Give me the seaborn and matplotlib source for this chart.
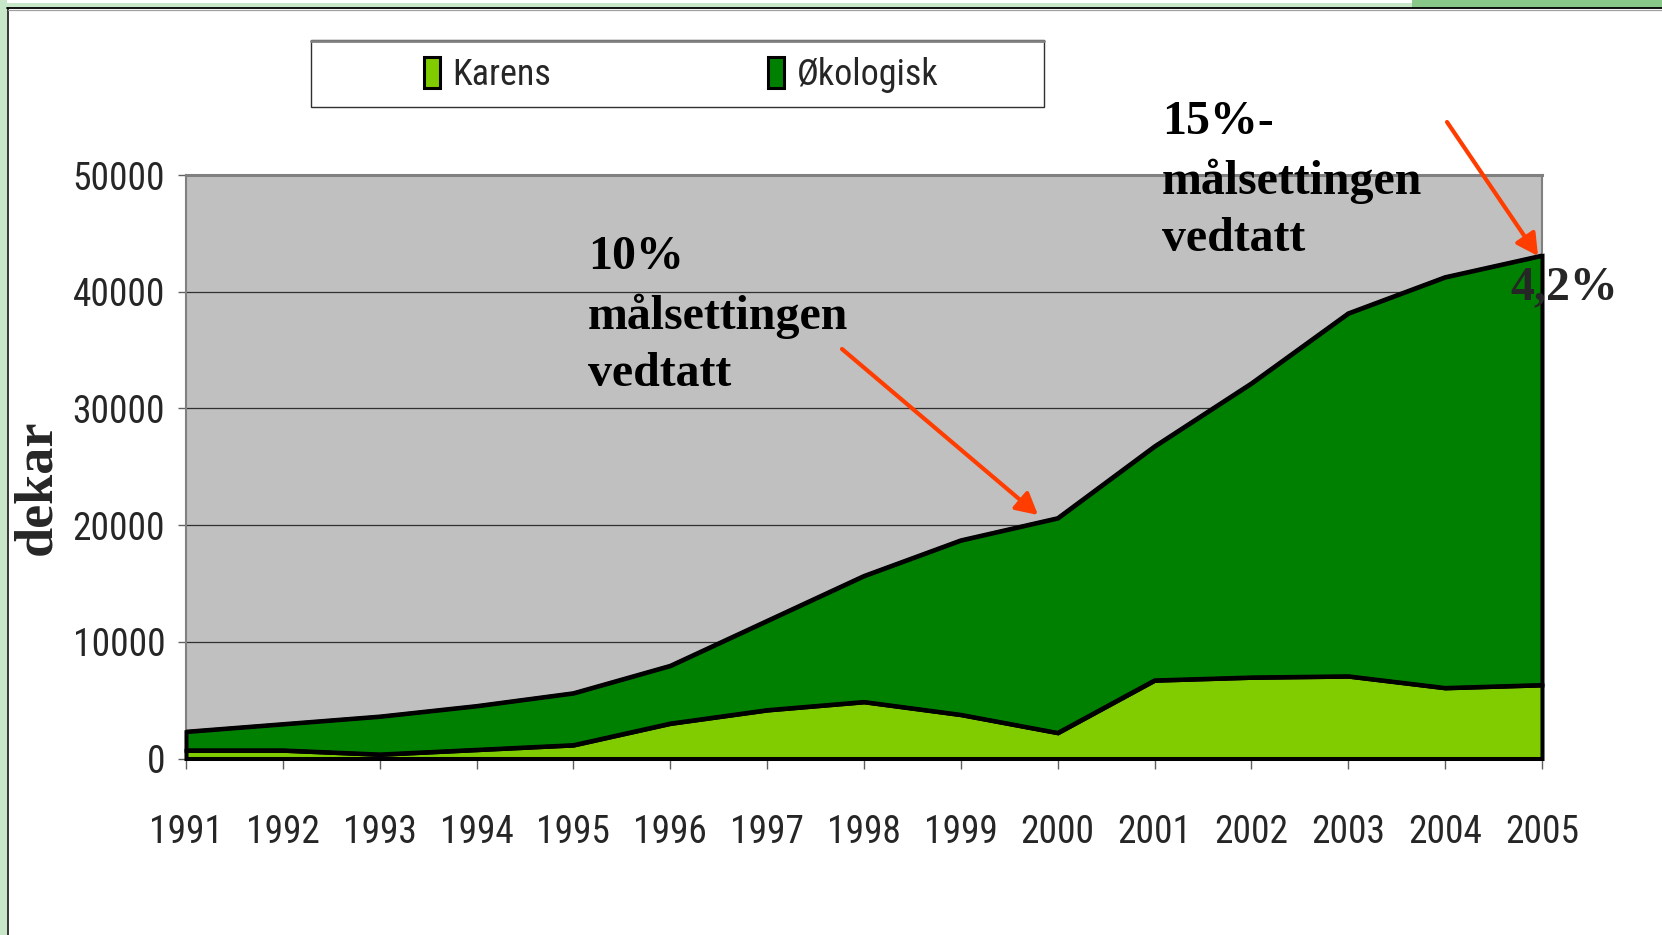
import matplotlib
matplotlib.use("Agg")
import matplotlib.pyplot as plt
from matplotlib import font_manager as fm
from matplotlib.patches import Rectangle, Patch
from matplotlib.lines import Line2D
import pandas as pd
import seaborn as sns

# data (dekar)
years = list(range(1991, 2006))
karens = [700, 700, 350, 750, 1150, 3000, 4150, 4850, 3750, 2200, 6700, 6950, 7050, 6050, 6300]
okologisk = [1600, 2250, 3250, 3750, 4450, 4950, 7650, 10800, 14950, 18400, 20050, 25200, 31100, 35200, 36800]
series_names = ["Karens", "Økologisk"]
series_colors = ["#80CC00", "#008000"]
y_ticks = [0, 10000, 20000, 30000, 40000, 50000]

df = pd.DataFrame({"år": years, "Karens": karens, "Økologisk": okologisk})
df["total"] = df["Karens"] + df["Økologisk"]

sns.set_style("white")

# look for a narrow sans font, like Arial Narrow in the original
names = {f.name for f in fm.fontManager.ttflist}
narrow = None
for cand in ["Liberation Sans Narrow", "Arial Narrow", "Roboto Condensed", "Open Sans Condensed"]:
    if cand in names:
        narrow = dict(family=cand, stretch="normal")
        break
if narrow is None:
    path = fm.findfont(fm.FontProperties(family="DejaVu Sans", stretch="condensed"))
    if "Condensed" in path:
        narrow = dict(family="DejaVu Sans", stretch="condensed")
if narrow is None:
    narrow = dict(family="Liberation Sans", stretch="normal")
    lab_size = 23
else:
    lab_size = 27
plt.rcParams["font.family"] = [narrow["family"], "DejaVu Sans"]
plt.rcParams["font.stretch"] = narrow["stretch"]

W, H = 1662, 935
fig = plt.figure(figsize=(W / 100, H / 100), dpi=100)
fig.patch.set_facecolor("white")


def fx(px):
    return px / W


def fy(py):
    # py measured from the top of the image
    return 1 - py / H


# slide frame
fig.add_artist(Rectangle((0, fy(935)), fx(7), 1, transform=fig.transFigure, color="#C8E6C8", lw=0))
fig.add_artist(Rectangle((0, fy(7.5)), 1, fx(8), transform=fig.transFigure, color="#C8E6C8", lw=0))
fig.add_artist(Rectangle((fx(1412), fy(7.5)), fx(250), 7.5 / H, transform=fig.transFigure, color="#88C888", lw=0))
fig.add_artist(Line2D([fx(7.5), fx(7.5)], [0, fy(8)], transform=fig.transFigure, color="black", lw=1.1))
fig.add_artist(Line2D([fx(7), 1], [fy(8.2), fy(8.2)], transform=fig.transFigure, color="black", lw=1.3))
fig.add_artist(Line2D([fx(8), 1], [fy(9.8), fy(9.8)], transform=fig.transFigure, color="#A0A0A0", lw=0.9))

ax = fig.add_axes([fx(186), fy(758.5), fx(1542 - 186), (758.5 - 175) / H])
ax.set_facecolor("#C0C0C0")

polys = ax.stackplot(df["år"], df["Karens"], df["Økologisk"], colors=series_colors,
                     edgecolor="black", linewidth=2.9, zorder=3)
for p in polys:
    p.set_clip_on(False)
    p.set_joinstyle("miter")
sns.lineplot(data=df, x="år", y="total", color="black", lw=2.9, ax=ax, zorder=4, legend=False)
sns.lineplot(data=df, x="år", y="Karens", color="black", lw=2.9, ax=ax, zorder=4, legend=False)

ax.set_xlim(1991, 2005)
ax.set_ylim(0, 50000)
ax.set_xticks(years)
ax.set_xticklabels([str(y) for y in years])
ax.set_yticks(y_ticks)
ax.set_yticklabels([str(v) for v in y_ticks])
ax.yaxis.grid(True, color="#303030", lw=0.9, zorder=1)
ax.xaxis.grid(False)
ax.set_axisbelow(True)
ax.tick_params(axis="x", direction="out", length=7, width=1, color="#606060", pad=33,
               labelsize=lab_size, bottom=True)
ax.tick_params(axis="y", direction="out", length=6, width=1, color="#606060", pad=9,
               labelsize=lab_size, left=True)
ax.set_xlabel("")
ax.set_ylabel("")
for side in ["left", "right"]:
    ax.spines[side].set_color("#808080")
    ax.spines[side].set_linewidth(1.5)
ax.spines["top"].set_color("#808080")
ax.spines["top"].set_linewidth(2.2)
ax.spines["bottom"].set_color("black")
ax.spines["bottom"].set_linewidth(2)

# y label
fig.text(fx(37), fy(487), "dekar", rotation=90, ha="center", va="center",
         family="Liberation Serif", weight="bold", fontsize=39)

# legend box + entries
fig.add_artist(Rectangle((fx(311), fy(107)), fx(733), 67 / H, transform=fig.transFigure,
                         facecolor="white", edgecolor="#303030", lw=1))
fig.add_artist(Line2D([fx(311), fx(1044)], [fy(40.5), fy(40.5)], transform=fig.transFigure,
                      color="#808080", lw=2))
handles = [Patch(facecolor=c, edgecolor="black", lw=2.2, label=n) for n, c in zip(series_names, series_colors)]
fig.legend(handles=handles, loc="center", bbox_to_anchor=(fx(681), fy(75)), ncol=2, frameon=False,
           fontsize=lab_size - 1, handlelength=0.45, handleheight=0.95, handletextpad=0.35,
           columnspacing=6.0)

# annotations
txt_kw = dict(family="Liberation Serif", weight="bold", fontsize=34.5, color="black",
              ha="left", va="top", linespacing=1.40)
fig.text(fx(588), fy(235), "10%\nmålsettingen\nvedtatt", **txt_kw)
fig.text(fx(1162), fy(100), "15%-\nmålsettingen\nvedtatt", **txt_kw)
fig.text(fx(1510), fy(299), "4,2%", family="Liberation Serif", weight="bold", fontsize=34.5,
         ha="left", va="baseline")

arrow_kw = dict(arrowstyle="-|>,head_length=1.3,head_width=0.7", color="#FF3D00", lw=3,
                shrinkA=0, shrinkB=0)
ax.annotate("", xy=(1038, H - 515), xytext=(842, H - 349), xycoords="figure pixels",
            textcoords="figure pixels", arrowprops=arrow_kw)
ax.annotate("", xy=(1538, H - 256), xytext=(1447, H - 122), xycoords="figure pixels",
            textcoords="figure pixels", arrowprops=arrow_kw)

fig.savefig("out.png", dpi=100)
